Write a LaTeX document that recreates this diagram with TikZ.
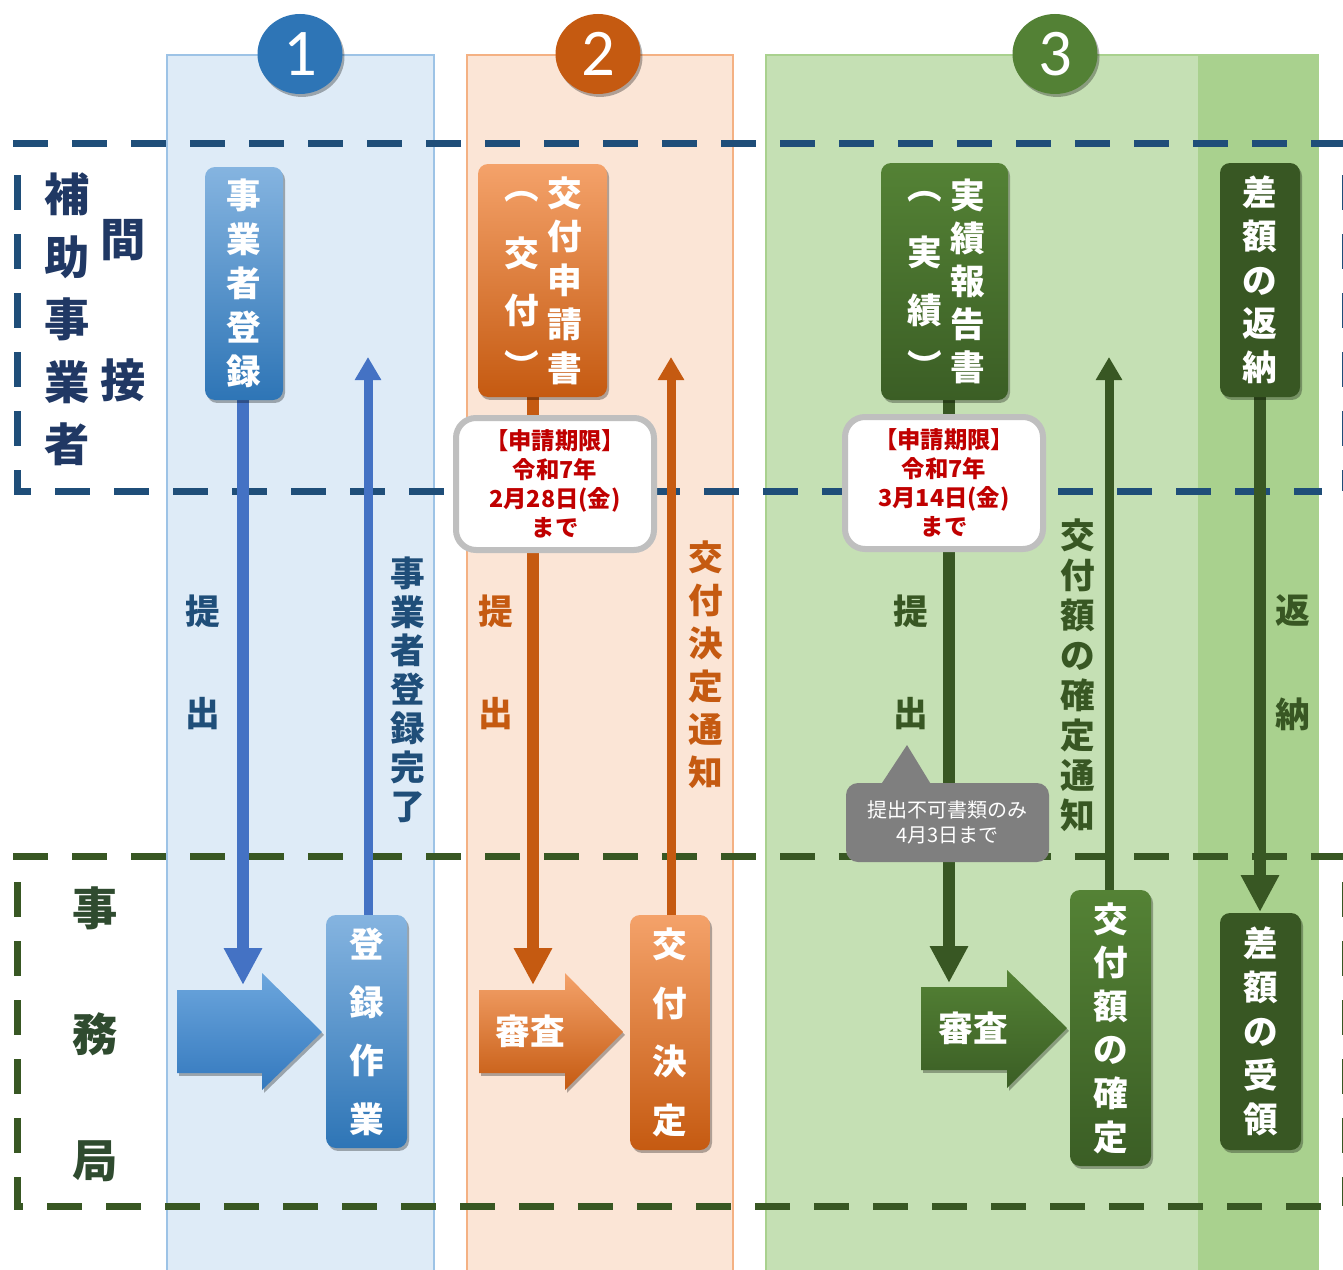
\documentclass[tikz,border=0pt]{standalone}
\usepackage{fontspec}
\newfontfamily\jp{Noto Sans CJK JP}
\newfontfamily\numfont{Carlito}
\usetikzlibrary{shadows,arrows.meta,shapes.geometric}
\definecolor{cafill}{HTML}{DEEBF7}
\definecolor{caline}{HTML}{9DC3E6}
\definecolor{cbfill}{HTML}{FBE5D6}
\definecolor{cbline}{HTML}{F4B183}
\definecolor{ccfill}{HTML}{C5E0B4}
\definecolor{ccband}{HTML}{A9D18E}
\definecolor{navy}{HTML}{1F4E79}
\definecolor{dgreen}{HTML}{385723}
\definecolor{labnavy}{HTML}{203864}
\definecolor{bluearr}{HTML}{4472C4}
\definecolor{bluetop}{HTML}{85B4E0}
\definecolor{bluebot}{HTML}{2E75B6}
\definecolor{bigbtop}{HTML}{6CA6DD}
\definecolor{bigbbot}{HTML}{3479BE}
\definecolor{orgtop}{HTML}{F4A26A}
\definecolor{orgbot}{HTML}{C55A11}
\definecolor{grntop}{HTML}{548235}
\definecolor{grnbot}{HTML}{3B5E25}
\definecolor{darkg}{HTML}{385723}
\definecolor{redtxt}{HTML}{C00000}
\definecolor{grayc}{HTML}{7F7F7F}
\definecolor{graybd}{HTML}{BFBFBF}
\definecolor{circa}{HTML}{2E75B6}
\definecolor{circb}{HTML}{C55A11}
\definecolor{circc}{HTML}{538135}
\definecolor{jimu}{HTML}{2F4B2F}
\pgfdeclarelayer{back}
\pgfdeclarelayer{mid}
\pgfsetlayers{back,mid,main}
\begin{document}
\begin{tikzpicture}[x=0.75pt,y=-0.75pt,
  shad/.style={drop shadow={shadow xshift=1.5pt,shadow yshift=-2.2pt,opacity=0.3,fill=black}},
  vbox/.style={rounded corners=7.5pt, inner sep=0pt, text=white, align=center, shad},
  boxtext/.style={font=\jp\bfseries\fontsize{26}{#1}\selectfont},
  chr/.style={inner sep=0pt, text=white, font=\jp\bfseries\fontsize{26}{26}\selectfont},
  dashnavy/.style={draw=navy, line width=5.25pt, dash pattern=on 26.25pt off 18pt},
  dashgreen/.style={draw=dgreen, line width=5.25pt, dash pattern=on 26.25pt off 18pt},
  downarr/.style={line width=9pt, -{Triangle[width=27pt,length=27.75pt]}},
  uparr/.style={line width=6.75pt, -{Triangle[width=18.75pt,length=17.25pt]}},
  midlab/.style={inner sep=0pt, align=center, font=\jp\bfseries\fontsize{26}{#1}\selectfont},
  sidelab/.style={inner sep=0pt, align=center, font=\jp\bfseries\fontsize{34}{#1}\selectfont},
  callout/.style={rounded corners=15pt, fill=white, draw=graybd, line width=4.5pt,
    minimum width=148.5pt, minimum height=99pt, align=center, text=redtxt, inner sep=0pt,
    font=\jp\bfseries\fontsize{17.5}{21.75}\selectfont},
  circ/.style={ellipse, minimum width=63.75pt, minimum height=60pt, inner sep=0pt, shad,
    text=white, font=\numfont\fontsize{50}{50}\selectfont},
  bigtext/.style={inner sep=0pt, text=white, font=\jp\bfseries\fontsize{26}{26}\selectfont}
]
\useasboundingbox (0,0) rectangle (1343,1270);
\begin{pgfonlayer}{back}
\fill[white] (0,0) rectangle (1343,1270);
% columns
\filldraw[fill=cafill, draw=caline, line width=1.5pt] (167,55) rectangle (434,1290);
\filldraw[fill=cbfill, draw=cbline, line width=1.5pt] (467,55) rectangle (733,1290);
\fill[ccfill] (766,55) rectangle (1318,1290);
\fill[ccband] (1198,55) rectangle (1318,1290);
\draw[ccband, line width=1.5pt] (766,55) rectangle (1318,1290);
% dashed frames
\draw[dashnavy] (13,143) -- (1350,143);
\draw[dashnavy] (17,175) -- (17,491) -- (1322,491);
\draw[dashnavy] (1345,175) -- (1345,491);
\draw[dashgreen] (13,856) -- (1350,856);
\draw[dashgreen] (17,882) -- (17,1206) -- (1322,1206);
\draw[dashgreen] (1345,882) -- (1345,1206);
\end{pgfonlayer}

% circles
\node[circ, fill=circa] (n1) at (300,54) {1};
\node[circ, fill=circb] (n2) at (598,54) {2};
\node[circ, fill=circc] (n3) at (1055,54) {3};

% side labels
\node[sidelab=46.9, text=labnavy] (hojo) at (67.5,319.5) {補\\助\\事\\業\\者};
\node[sidelab=46.9, text=labnavy] (kan) at (123.5,240) {間};
\node[sidelab=46.9, text=labnavy] (setsu) at (123.5,380) {接};
\node[sidelab=94.5, text=jimu] (jimukyoku) at (95,1034) {事\\務\\局};

% boxes
\node[vbox, shade, top color=bluetop, bottom color=bluebot, minimum width=58.5pt, minimum height=174.75pt, boxtext=33] (b1) at (244,283.5) {事\\業\\者\\登\\録};
\node[vbox, shade, top color=bluetop, bottom color=bluebot, minimum width=60.75pt, minimum height=174.75pt, boxtext=43.7] (b2) at (366.5,1031.5) {登\\録\\作\\業};
\node[vbox, shade, top color=orgtop, bottom color=orgbot, minimum width=96.75pt, minimum height=174.75pt] (b3) at (542.5,280.5) {};
\node[chr, align=center, font=\jp\bfseries\fontsize{26}{32.8}\selectfont] (b3r) at (565,280.5) {交\\付\\申\\請\\書};
\node[chr] (b3a) at (522,197) {︵};
\node[chr] (b3b) at (522,253) {交};
\node[chr] (b3c) at (522,310) {付};
\node[chr] (b3d) at (522,365) {︶};
\node[vbox, shade, top color=orgtop, bottom color=orgbot, minimum width=60pt, minimum height=176.25pt, boxtext=44] (b4) at (670,1032.5) {交\\付\\決\\定};
\node[vbox, shade, top color=grntop, bottom color=grnbot, minimum width=95.25pt, minimum height=177.75pt] (b5) at (944.5,281.5) {};
\node[chr, align=center, font=\jp\bfseries\fontsize{26}{32.25}\selectfont] (b5r) at (968,281) {実\\績\\報\\告\\書};
\node[chr] (b5a) at (925,197) {︵};
\node[chr] (b5b) at (925,252) {実};
\node[chr] (b5c) at (925,310) {績};
\node[chr] (b5d) at (925,365) {︶};
\node[vbox, fill=darkg, minimum width=60pt, minimum height=175.5pt, boxtext=32.8] (b6) at (1260,280) {差\\額\\の\\返\\納};
\node[vbox, shade, top color=grntop, bottom color=grnbot, minimum width=60.75pt, minimum height=207pt, boxtext=32.7] (b7) at (1110.5,1028) {交\\付\\額\\の\\確\\定};
\node[vbox, fill=darkg, minimum width=60.75pt, minimum height=177.75pt, boxtext=33] (b8) at (1260.5,1031.5) {差\\額\\の\\受\\領};

% arrow tips
\coordinate (t1) at (243,985);
\coordinate (u1) at (368,357);
\coordinate (t2) at (533,985);
\coordinate (u2) at (671,357);
\coordinate (t3) at (949,983);
\coordinate (u3) at (1109,357);
\coordinate (t4) at (1260,912);

\begin{pgfonlayer}{mid}
\draw[downarr, bluearr] (b1.south -| t1) -- (t1);
\draw[uparr, bluearr] (b2.north -| u1) -- (u1);
\draw[downarr, orgbot] (b3.south -| t2) -- (t2);
\draw[uparr, orgbot] (b4.north -| u2) -- (u2);
\draw[downarr, darkg] (b5.south -| t3) -- (t3);
\draw[uparr, darkg] (b7.north -| u3) -- (u3);
\draw[downarr, darkg] (b6.south -| t4) -- (t4);
\end{pgfonlayer}

% middle labels
\node[midlab=26, text=navy] (p1) at (202.5,611) {提};
\node[midlab=26, text=navy] (d1) at (202.5,714) {出};
\node[midlab=29.1, text=navy] (kanryo) at (408,689.5) {事\\業\\者\\登\\録\\完\\了};
\node[midlab=26, text=orgbot] (p2) at (496,611) {提};
\node[midlab=26, text=orgbot] (d2) at (496,714) {出};
\node[midlab=32.25, text=orgbot] (tsuchi2) at (706,664.5) {交\\付\\決\\定\\通\\知};
\node[midlab=26, text=darkg] (p3) at (911,611) {提};
\node[midlab=26, text=darkg] (d3) at (911,714) {出};
\node[midlab=30, text=darkg] (tsuchi3) at (1078,675) {交\\付\\額\\の\\確\\定\\通\\知};
\node[midlab=26, text=darkg] (hen) at (1293,611) {返};
\node[midlab=26, text=darkg] (nou) at (1293,714) {納};

% big arrows
\shade[shad, top color=bigbtop, bottom color=bigbbot] (177,990) -- (262,990) -- (262,973) -- (322,1032) -- (262,1090) -- (262,1073) -- (177,1073) -- cycle;
\shade[shad, top color=orgtop, bottom color=orgbot] (479,990) -- (565,990) -- (565,973) -- (623,1032) -- (565,1090) -- (565,1073) -- (479,1073) -- cycle;
\node[bigtext] (sa2) at (530,1031) {審査};
\shade[shad, top color=grntop, bottom color=grnbot] (921,987) -- (1007,987) -- (1007,970) -- (1067,1028) -- (1007,1088) -- (1007,1070) -- (921,1070) -- cycle;
\node[bigtext] (sa3) at (973,1028) {審査};

% callouts
\node[callout] (cl1) at (555,484) {【申請期限】\\令和7年\\2月28日(金)\\まで};
\node[callout] (cl2) at (944,483) {【申請期限】\\令和7年\\3月14日(金)\\まで};

% gray note
\fill[grayc] (880,786) -- (907,745) -- (932,786) -- cycle;
\node[rounded corners=9pt, fill=grayc, minimum width=152.25pt, minimum height=59.25pt, inner sep=0pt, text=white, align=center, font=\jp\fontsize{15}{18.75}\selectfont] (gc) at (947.5,822.5) {提出不可書類のみ\\4月3日まで};
\end{tikzpicture}
\end{document}
